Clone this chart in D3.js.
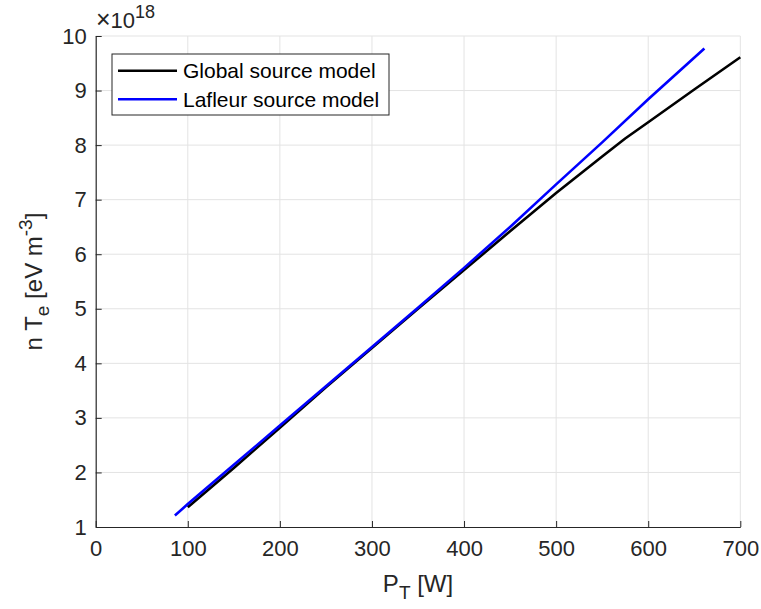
<!DOCTYPE html>
<html>
<head>
  <meta charset="utf-8">
  <script src="https://d3js.org/d3.v7.min.js"></script>
  <style>
    body { margin: 0; background: #fff; }
    svg { font-family: "Liberation Sans", Arial, Helvetica, sans-serif; }
    .grid line { stroke: #e3e3e3; stroke-width: 1px; }
    .axis path, .axis line { stroke: #262626; }
    .axis text { fill: #262626; font-size: 22px; }
  </style>
</head>
<body>
  <svg id="chart" width="761" height="609"></svg>
  <script>
    // values (n*Te in units of 1e18 eV m^-3)
    const globalP   = [100, 150, 200, 250, 300, 350, 400, 450, 500, 550, 575, 600, 650, 700];
    const globalNTe = [1.36, 2.08, 2.82, 3.56, 4.28, 5.00, 5.71, 6.42, 7.12, 7.79, 8.12, 8.42, 9.02, 9.61];

    const lafleurP   = [86, 100, 150, 200, 250, 300, 350, 400, 450, 500, 550, 600, 661];
    const lafleurNTe = [1.21, 1.42, 2.14, 2.86, 3.58, 4.30, 5.02, 5.75, 6.50, 7.28, 8.05, 8.84, 9.77];

    const xTicks = [0, 100, 200, 300, 400, 500, 600, 700];
    const yTicks = [1, 2, 3, 4, 5, 6, 7, 8, 9, 10];

    const seriesNames = ["Global source model", "Lafleur source model"];
    const seriesColors = ["#000000", "#0000ff"];

    const svg = d3.select("#chart");
    const plotLeft = 95.7, plotRight = 740.3, plotTop = 36, plotBottom = 527;

    const x = d3.scaleLinear().domain([0, 700]).range([plotLeft, plotRight]);
    const y = d3.scaleLinear().domain([1, 10]).range([plotBottom, plotTop]);

    // grid
    const grid = svg.append("g").attr("class", "grid");
    grid.selectAll("line.v").data(xTicks.slice(1)).join("line").attr("class", "v")
        .attr("x1", d => x(d)).attr("x2", d => x(d)).attr("y1", plotTop).attr("y2", plotBottom);
    grid.selectAll("line.h").data(yTicks.slice(1)).join("line").attr("class", "h")
        .attr("x1", plotLeft).attr("x2", plotRight).attr("y1", d => y(d)).attr("y2", d => y(d));

    // axes (ticks pointing inward, box off)
    const xAxis = svg.append("g").attr("class", "axis")
        .attr("transform", `translate(0,${plotBottom})`)
        .call(d3.axisBottom(x).tickValues(xTicks).tickSizeInner(-6).tickSizeOuter(0).tickPadding(14));
    xAxis.selectAll("text").attr("dy", "0.71em").attr("y", 13);

    const yAxis = svg.append("g").attr("class", "axis")
        .attr("transform", `translate(${plotLeft},0)`)
        .call(d3.axisLeft(y).tickValues(yTicks).tickSizeInner(-6).tickSizeOuter(0).tickPadding(9));
    yAxis.selectAll("text").attr("x", -9);
    svg.selectAll(".axis path").attr("stroke-width", 1.2);

    // exponent label
    const ex = svg.append("text").attr("x", 96).attr("y", 28)
        .attr("fill", "#262626").style("font-size", "22px");
    ex.append("tspan").style("font-size", "25px").text("\u00d7");
    ex.append("tspan").text("10");
    ex.append("tspan").attr("dy", -10).style("font-size", "18px").text("18");

    // lines
    const line = d3.line().x(d => x(d[0])).y(d => y(d[1]));
    const series = [
      d3.zip(globalP, globalNTe),
      d3.zip(lafleurP, lafleurNTe)
    ];
    svg.append("g").selectAll("path").data(series).join("path")
        .attr("d", line)
        .attr("fill", "none")
        .attr("stroke", (d, i) => seriesColors[i])
        .attr("stroke-width", 2.6)
        .attr("stroke-linejoin", "round");

    // axis labels
    const xl = svg.append("text").attr("x", 418).attr("y", 592)
        .attr("text-anchor", "middle").attr("fill", "#262626").style("font-size", "24px");
    xl.append("tspan").text("P");
    xl.append("tspan").attr("dy", 7).style("font-size", "19px").text("T");
    xl.append("tspan").attr("dy", -7).text(" [W]");

    const yl = svg.append("text")
        .attr("transform", `translate(42,${(plotTop + plotBottom) / 2}) rotate(-90)`)
        .attr("text-anchor", "middle").attr("fill", "#262626").style("font-size", "24px");
    yl.append("tspan").text("n T");
    yl.append("tspan").attr("dy", 7).style("font-size", "19px").text("e");
    yl.append("tspan").attr("dy", -7).text(" [eV m");
    yl.append("tspan").attr("dy", -10).style("font-size", "19px").text("-3");
    yl.append("tspan").attr("dy", 10).text("]");

    // legend
    const lg = svg.append("g");
    lg.append("rect").attr("x", 112).attr("y", 54).attr("width", 277).attr("height", 61)
        .attr("fill", "#fff").attr("stroke", "#262626").attr("stroke-width", 1);
    seriesNames.forEach((name, i) => {
      const cy = 70.7 + i * 28.6;
      lg.append("line").attr("x1", 118).attr("x2", 177).attr("y1", cy).attr("y2", cy)
          .attr("stroke", seriesColors[i]).attr("stroke-width", 2.6);
      lg.append("text").attr("x", 183).attr("y", cy).attr("dy", "0.36em")
          .attr("fill", "#000").style("font-size", "21px").text(name);
    });
  </script>
</body>
</html>
